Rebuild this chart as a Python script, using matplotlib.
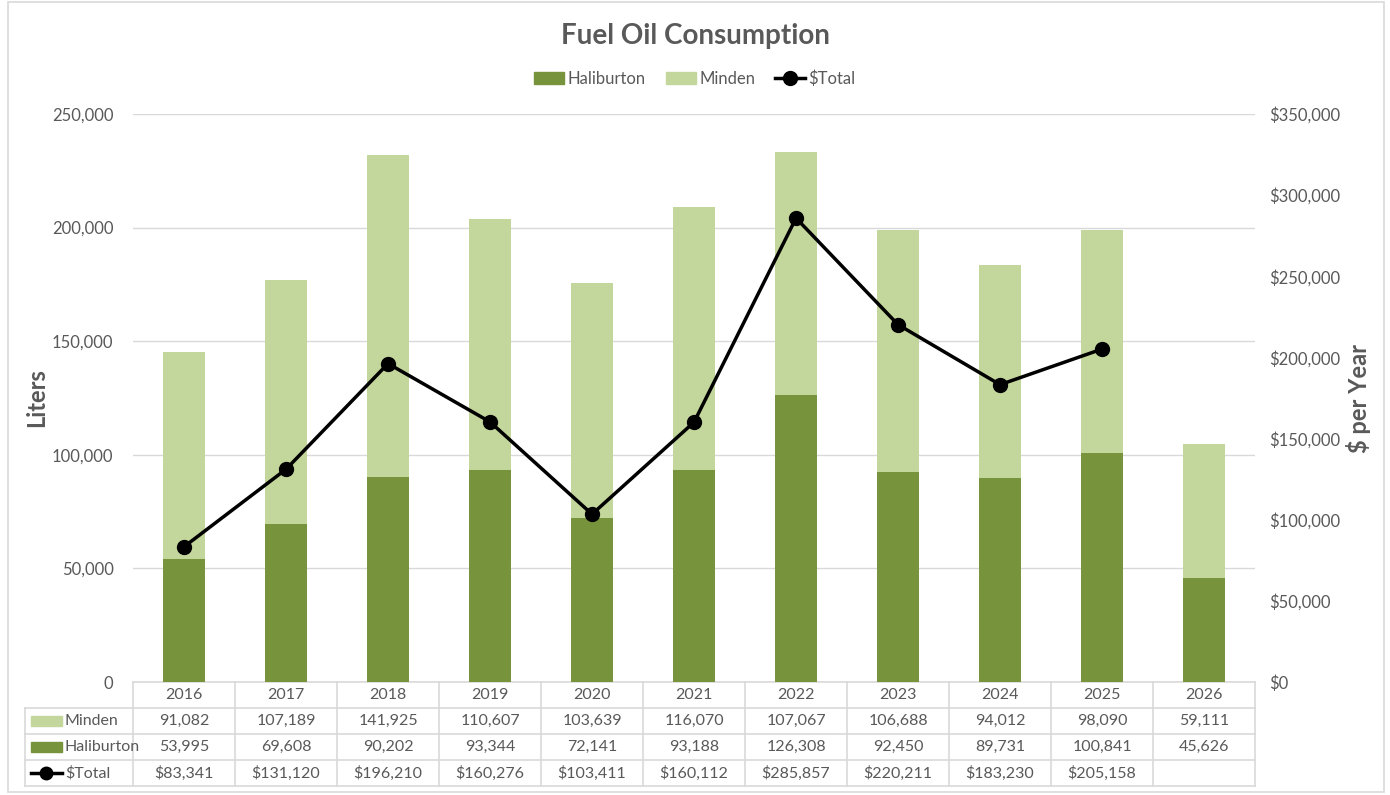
import numpy as np
import matplotlib.pyplot as plt
from matplotlib.lines import Line2D
from matplotlib.patches import Rectangle
import matplotlib.transforms as mtransforms

plt.rcParams['font.family'] = ['Lato', 'DejaVu Sans']

# data
years = ['2016', '2017', '2018', '2019', '2020', '2021', '2022', '2023', '2024', '2025', '2026']
minden = [91082, 107189, 141925, 110607, 103639, 116070, 107067, 106688, 94012, 98090, 59111]
haliburton = [53995, 69608, 90202, 93344, 72141, 93188, 126308, 92450, 89731, 100841, 45626]
total_cost = [83341, 131120, 196210, 160276, 103411, 160112, 285857, 220211, 183230, 205158, np.nan]

dark = '#77933C'
light = '#C3D69B'
grid_c = '#D9D9D9'
txt = '#595959'

fig = plt.figure(figsize=(13.9, 7.95), dpi=100)
ax = fig.add_axes([0.0957, 0.1421, 0.8072, 0.7145])
ax2 = ax.twinx()

x = np.arange(len(years))
ax.bar(x, haliburton, width=0.41, color=dark, zorder=3, label='Haliburton')
ax.bar(x, minden, width=0.41, bottom=haliburton, color=light, zorder=3, label='Minden')
ax2.plot(x, total_cost, color='black', lw=2.5, marker='o', ms=10, zorder=4, label='$Total')

ax.set_xlim(-0.5, len(years) - 0.5)
ax.set_ylim(0, 250000)
ax2.set_ylim(0, 350000)
ax.set_yticks(np.arange(0, 250001, 50000))
ax2.set_yticks(np.arange(0, 350001, 50000))
ax.yaxis.set_major_formatter(plt.FuncFormatter(lambda v, p: f'{int(v):,}'))
ax2.yaxis.set_major_formatter(plt.FuncFormatter(lambda v, p: f'${int(v):,}'))
ax.grid(axis='y', color=grid_c, lw=1, zorder=0)
ax.set_xticks([])
for a in (ax, ax2):
    for s in a.spines.values():
        s.set_visible(False)
    a.tick_params(axis='y', length=0, labelsize=12, colors=txt, pad=14)
ax2.tick_params(axis='y', pad=10)

ax.set_ylabel('Liters', fontsize=17, fontweight='bold', color=txt, labelpad=3)
ax2.set_ylabel('$ per Year', fontsize=17, fontweight='bold', color=txt, labelpad=4)

fig.text(0.5, 0.955, 'Fuel Oil Consumption', ha='center', va='center',
         fontsize=20, fontweight='bold', color=txt)

handles = [Rectangle((0, 0), 1, 1, color=dark), Rectangle((0, 0), 1, 1, color=light),
           Line2D([], [], color='black', lw=2.5, marker='o', ms=10)]
fig.legend(handles, ['Haliburton', 'Minden', '$Total'], loc='center', ncol=3,
           bbox_to_anchor=(0.5, 0.901), frameon=False, fontsize=12, labelcolor=txt,
           handlelength=1.8, handleheight=0.7, columnspacing=1.2, handletextpad=0.2)

# data table below the plot
trans = mtransforms.blended_transform_factory(ax.transData, ax.transAxes)
rh = 26 / 568.0
row_top = [0, -rh, -2 * rh, -3 * rh, -4 * rh]
lab_left = (25 - 133) / 1122.0 * 11 - 0.5
lw_t = 1.2
# horizontal lines
ax.plot([-0.5, 10.5], [0, 0], transform=trans, color=grid_c, lw=lw_t, clip_on=False)
for yy in row_top[1:]:
    ax.plot([lab_left, 10.5], [yy, yy], transform=trans, color=grid_c, lw=lw_t, clip_on=False)
# vertical lines
for i in range(12):
    ax.plot([i - 0.5, i - 0.5], [0, row_top[-1]], transform=trans, color=grid_c, lw=lw_t, clip_on=False)
ax.plot([lab_left, lab_left], [row_top[1], row_top[-1]], transform=trans, color=grid_c, lw=lw_t, clip_on=False)

fs_t = 11.5
for i, yr in enumerate(years):
    ax.text(i, -0.5 * rh, yr, transform=trans, ha='center', va='center', fontsize=fs_t, color=txt)
    ax.text(i, -1.5 * rh, f'{minden[i]:,}', transform=trans, ha='center', va='center', fontsize=fs_t, color=txt)
    ax.text(i, -2.5 * rh, f'{haliburton[i]:,}', transform=trans, ha='center', va='center', fontsize=fs_t, color=txt)
    if not np.isnan(total_cost[i]):
        ax.text(i, -3.5 * rh, f'${int(total_cost[i]):,}', transform=trans, ha='center', va='center',
                fontsize=fs_t, color=txt)

# row labels with keys
key_l = lab_left + 0.06
key_w = 0.3
for r, (name, col) in enumerate([('Minden', light), ('Haliburton', dark)]):
    yc = -(1.5 + r) * rh
    ax.add_patch(Rectangle((key_l, yc - 0.18 * rh), key_w, 0.36 * rh, transform=trans,
                           color=col, clip_on=False))
    ax.text(key_l + key_w + 0.03, yc, name, transform=trans, ha='left', va='center',
            fontsize=fs_t, color=txt)
yc = -3.5 * rh
ax.plot([key_l, key_l + key_w], [yc, yc], transform=trans, color='black', lw=2.5, clip_on=False)
ax.plot([key_l + key_w / 2], [yc], transform=trans, color='black', marker='o', ms=9, clip_on=False)
ax.text(key_l + key_w + 0.03, yc, '$Total', transform=trans, ha='left', va='center',
        fontsize=fs_t, color=txt)

# outer chart border
fig.patches.append(Rectangle((0.006, 0.004), 0.99, 0.993, transform=fig.transFigure,
                             fill=False, edgecolor=grid_c, lw=1.2))

fig.savefig('out.png', dpi=100)
